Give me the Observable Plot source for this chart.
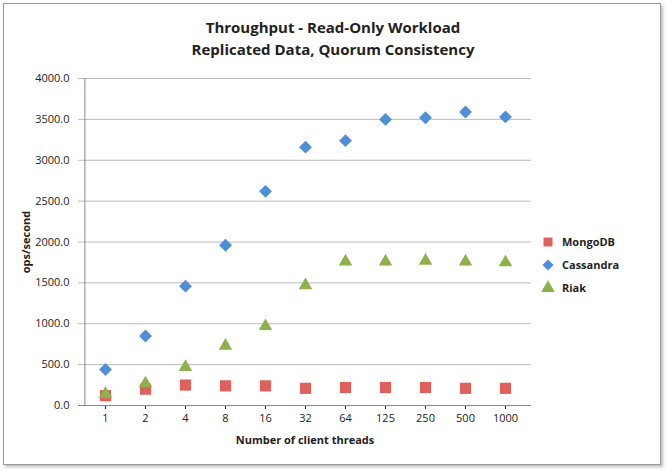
<!DOCTYPE html>
<html>
<head>
<meta charset="UTF-8">
<script src="https://cdn.jsdelivr.net/npm/d3@7"></script>
<script src="https://cdn.jsdelivr.net/npm/@observablehq/plot@0.6"></script>
<style>
  body { margin: 0; background: #fff; font-family: "Open Sans", Arial, sans-serif; }
  #wrap { position: relative; width: 666px; height: 470px; }
  #frame { position: absolute; left: 3px; top: 3px; width: 656px; height: 460px; border: 1px solid #999; box-shadow: 2px 2px 3px #bbb; }
  #title { position: absolute; left: 0; width: 666px; top: 16px; text-align: center; font-size: 15px; font-weight: bold; line-height: 22px; color: #222; }
  #legend { position: absolute; left: 540px; top: 230px; font-size: 11px; font-weight: bold; color: #222; }
  #legend div { height: 23px; display: flex; align-items: center; }
  #legend svg { margin-right: 6px; }
  #chart { position: absolute; left: 0; top: 0; }
</style>
</head>
<body>
<div id="wrap">
  <div id="frame"></div>
  <div id="title">Throughput - Read-Only Workload<br>Replicated Data, Quorum Consistency</div>
  <div id="chart"></div>
  <div id="legend"></div>
</div>
<script>
const threads = ["1", "2", "4", "8", "16", "32", "64", "125", "250", "500", "1000"];
const mongodb = [120, 200, 250, 240, 240, 210, 220, 220, 220, 210, 210];
const cassandra = [440, 850, 1460, 1960, 2620, 3160, 3240, 3500, 3520, 3590, 3530];
const riak = [140, 270, 470, 730, 970, 1470, 1760, 1760, 1770, 1760, 1750];

const seriesList = [
  { name: "MongoDB", values: mongodb, color: "#e0605c", symbol: "square", r: 6.3, d3sym: d3.symbolSquare },
  { name: "Cassandra", values: cassandra, color: "#4f8fd6", symbol: "diamond2", r: 5.8, d3sym: d3.symbolDiamond2 },
  { name: "Riak", values: riak, color: "#8fb04a", symbol: "triangle", r: 5, d3sym: d3.symbolTriangle }
];

const rows = [];
seriesList.forEach(s => s.values.forEach((v, i) => rows.push({ t: threads[i], v, s: s.name })));

const plot = Plot.plot({
  width: 666,
  height: 470,
  marginLeft: 78,
  marginRight: 135,
  marginTop: 78,
  marginBottom: 65,
  style: { fontFamily: "Open Sans, Arial, sans-serif", fontSize: "11px", background: "transparent", color: "#222" },
  x: { type: "band", domain: threads, label: "Number of client threads", labelAnchor: "center", labelOffset: 38, tickSize: 4 },
  y: { domain: [0, 4000], ticks: d3.range(0, 4001, 500), tickFormat: d => d.toFixed(1), label: "ops/second", labelArrow: "none", labelAnchor: "center", labelOffset: 56, tickSize: 0 },
  marks: [
    Plot.gridY(d3.range(500, 4001, 500), { stroke: "#bbb", strokeOpacity: 1 }),
    Plot.ruleY([0], { stroke: "#888" }),
    Plot.ruleX([0], { x: () => threads[0], dx: -20.6, stroke: "#888" }),
    ...seriesList.map(s => Plot.dot(rows.filter(d => d.s === s.name), {
      x: "t", y: "v", symbol: () => s.symbol, r: s.r, fill: s.color, stroke: "none"
    }))
  ]
});
plot.querySelectorAll("[aria-label='x-axis label'], [aria-label='y-axis label']").forEach(e => e.setAttribute("font-weight", "bold"));
document.getElementById("chart").append(plot);

const legend = document.getElementById("legend");
seriesList.forEach(s => {
  const row = document.createElement("div");
  const sym = d3.create("svg").attr("width", 16).attr("height", 16);
  sym.append("path").attr("transform", "translate(8,8)")
    .attr("d", d3.symbol(s.d3sym, 80)())
    .attr("fill", s.color);
  row.append(sym.node());
  row.append(s.name);
  legend.append(row);
});
</script>
</body>
</html>
